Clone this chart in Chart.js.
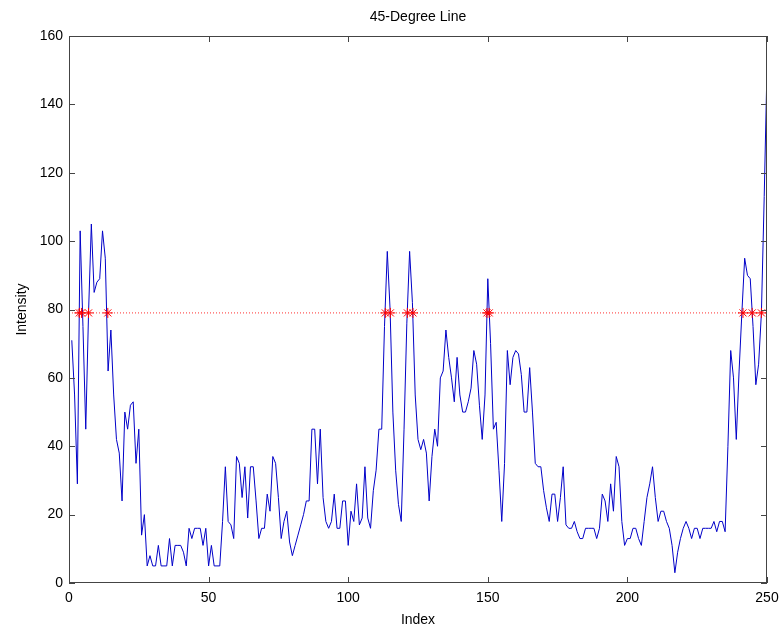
<!DOCTYPE html>
<html>
<head>
<meta charset="utf-8">
<script src="https://cdn.jsdelivr.net/npm/chart.js@4.4.1/dist/chart.umd.min.js"></script>
<style>
  html, body { margin: 0; padding: 0; background: #fff; }
  #wrap { width: 782px; height: 630px; }
</style>
</head>
<body>
<div id="wrap"><canvas id="chart" width="782" height="630"></canvas></div>
<script>
// intensity profile, index 1..250
var firstIndex = 1;
var intensity = [
         71, 55, 29, 103, 75, 45, 79, 105, 85,
    88, 89, 103, 95, 62, 74, 55, 42, 38, 24,
    50, 45, 52, 53, 35, 45, 14, 20, 5, 8,
    5, 5, 11, 5, 5, 5, 13, 5, 11, 11,
    11, 9, 5, 16, 13, 16, 16, 16, 11, 16,
    5, 11, 5, 5, 5, 18, 34, 18, 17, 13,
    37, 35, 25, 34, 19, 34, 34, 24, 13, 16,
    16, 26, 21, 37, 35, 25, 13, 18, 21, 12,
    8, 11, 14, 17, 20, 24, 24, 45, 45, 29,
    45, 25, 18, 16, 18, 26, 16, 16, 24, 24,
    11, 21, 18, 29, 17, 19, 34, 19, 16, 27,
    33, 45, 45, 75, 97, 80, 50, 33, 23, 18,
    45, 76, 97, 82, 55, 42, 39, 42, 38, 24,
    37, 45, 40, 60, 62, 74, 66, 60, 53, 66,
    55, 50, 50, 53, 57, 68, 64, 52, 42, 55,
    89, 70, 45, 47, 33, 18, 35, 68, 58, 66,
    68, 67, 61, 50, 50, 63, 50, 35, 34, 34,
    27, 22, 18, 26, 26, 18, 25, 34, 17, 16,
    16, 18, 15, 13, 13, 16, 16, 16, 16, 13,
    16, 26, 24, 18, 29, 21, 37, 34, 18, 11,
    13, 13, 16, 16, 13, 11, 18, 25, 29, 34,
    25, 18, 21, 21, 18, 16, 11, 3, 9, 13,
    16, 18, 16, 13, 16, 16, 13, 16, 16, 16,
    16, 18, 15, 18, 18, 15, 40, 68, 60, 42,
    62, 79, 95, 90, 89, 75, 58, 64, 79, 113, 151
];
var threshold = 79;
// where the curve crosses the threshold (red stars)
var crossIndex = [3.7, 4.5, 7.0, 13.9, 113.3, 115.1, 121.2, 123.2, 149.7, 150.5, 241.4, 244.7, 248.0];
var xTicks = [0, 50, 100, 150, 200, 250];
var yTicks = [0, 20, 40, 60, 80, 100, 120, 140, 160];

var linePts = intensity.map(function (v, i) { return { x: i + firstIndex, y: v }; });
var threshPts = [{ x: 0, y: threshold }, { x: 250, y: threshold }];
var starPts = crossIndex.map(function (i) { return { x: i, y: threshold }; });

var FONT = 'Liberation Sans, Arial, Helvetica, sans-serif';

// MATLAB style: box round the axes, ticks pointing inward, title over the plot
var matlabAxes = {
    id: 'matlabAxes',
    afterDraw: function (chart) {
        var ctx = chart.ctx, a = chart.chartArea;
        var sx = chart.scales.x, sy = chart.scales.y;
        ctx.save();
        ctx.strokeStyle = '#444';
        ctx.lineWidth = 1;
        ctx.strokeRect(Math.round(a.left) + 0.5, Math.round(a.top) + 0.5,
            Math.round(a.right - a.left) - 1, Math.round(a.bottom - a.top) - 1);
        ctx.beginPath();
        xTicks.forEach(function (t) {
            var px = Math.round(sx.getPixelForValue(t)) + 0.5;
            ctx.moveTo(px, a.bottom); ctx.lineTo(px, a.bottom - 6);
            ctx.moveTo(px, a.top); ctx.lineTo(px, a.top + 6);
        });
        yTicks.forEach(function (t) {
            var py = Math.round(sy.getPixelForValue(t)) + 0.5;
            ctx.moveTo(a.left, py); ctx.lineTo(a.left + 6, py);
            ctx.moveTo(a.right, py); ctx.lineTo(a.right - 6, py);
        });
        ctx.stroke();
        ctx.fillStyle = '#000';
        ctx.font = '14px ' + FONT;
        ctx.textAlign = 'center';
        ctx.textBaseline = 'middle';
        ctx.fillText('45-Degree Line', (a.left + a.right) / 2, 17);
        ctx.restore();
    }
};

var ctx = document.getElementById('chart').getContext('2d');
new Chart(ctx, {
    type: 'scatter',
    data: {
        datasets: [{
            label: 'Intensity',
            data: linePts,
            showLine: true,
            borderColor: '#0000c8',
            borderWidth: 1,
            pointRadius: 0,
            fill: false,
            order: 2
        }, {
            label: 'Threshold',
            data: threshPts,
            showLine: true,
            borderColor: '#ff3030',
            borderWidth: 1,
            borderDash: [1, 2],
            pointRadius: 0,
            fill: false,
            order: 3
        }, {
            label: 'Crossings',
            data: starPts,
            showLine: false,
            pointStyle: 'star',
            pointRadius: 5,
            pointBorderColor: '#ff0000',
            pointBorderWidth: 1,
            order: 1
        }]
    },
    options: {
        responsive: false,
        animation: false,
        layout: { padding: { top: 36, right: 0, left: 0, bottom: 0 } },
        plugins: {
            legend: { display: false },
            tooltip: { enabled: false },
            title: { display: false }
        },
        scales: {
            x: {
                type: 'linear',
                min: 0,
                max: 250,
                afterBuildTicks: function (s) { s.ticks = xTicks.map(function (v) { return { value: v }; }); },
                afterFit: function (s) { s.height = 47; s.paddingRight = 15; s.paddingLeft = 0; },
                grid: { display: false, drawTicks: false },
                border: { display: false },
                ticks: { color: '#000', padding: 7, font: { family: FONT, size: 14 }, maxRotation: 0 },
                title: { display: true, text: 'Index', color: '#000', font: { family: FONT, size: 14 }, padding: { top: 0, bottom: 1 } }
            },
            y: {
                min: 0,
                max: 160,
                afterBuildTicks: function (s) { s.ticks = yTicks.map(function (v) { return { value: v }; }); },
                afterFit: function (s) { s.width = 69; },
                grid: { display: false, drawTicks: false },
                border: { display: false },
                ticks: { color: '#000', padding: 6, font: { family: FONT, size: 14 } },
                title: { display: true, text: 'Intensity', color: '#000', font: { family: FONT, size: 14 }, padding: { top: 14, bottom: 0 } }
            }
        }
    },
    plugins: [matlabAxes]
});
</script>
</body>
</html>
